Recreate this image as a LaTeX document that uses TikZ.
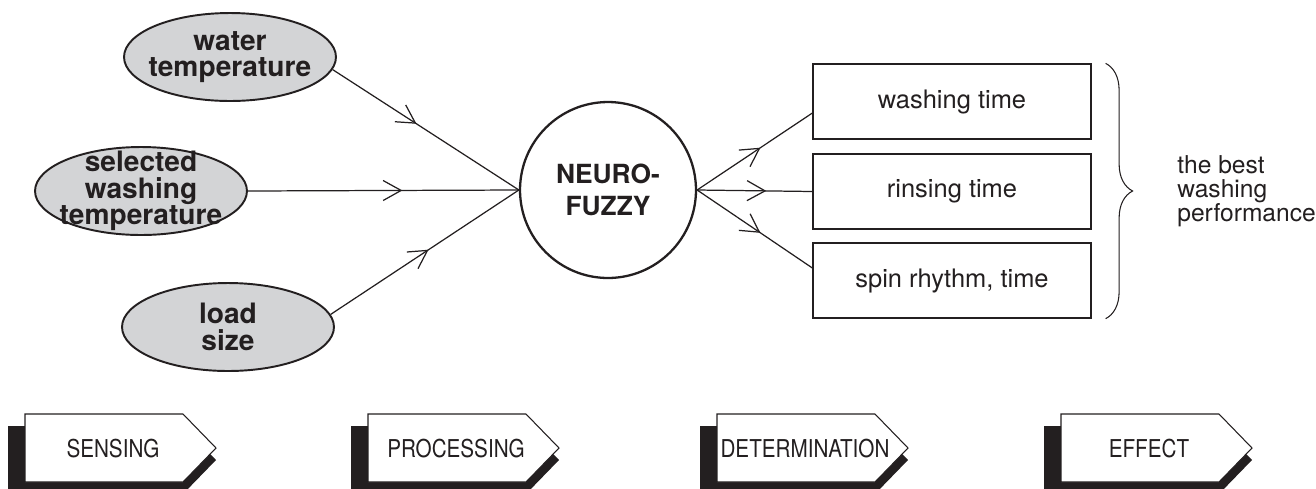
\documentclass[tikz,border=0pt]{standalone}
\usepackage{fontspec}
\setmainfont{TeX Gyre Heros}
\newfontfamily\tagfont[FakeStretch=0.84]{TeX Gyre Heros}
\usetikzlibrary{shapes,arrows.meta,calc,decorations.markings,decorations.pathreplacing}
\definecolor{ellgray}{RGB}{211,212,214}
\definecolor{ink}{RGB}{35,31,32}
\tikzset{sens/.style={ellipse,draw=ink,line width=1.1pt,fill=ellgray,minimum width=4.24cm,minimum height=1.76cm,inner sep=0pt},
stxt/.style={font=\bfseries\fontsize{16}{15}\selectfont,align=center,inner sep=0pt,text=ink},
proc/.style={circle,draw=ink,line width=1.3pt,minimum size=3.52cm,inner sep=0pt,align=center,font=\bfseries\fontsize{15}{18}\selectfont,text=ink},
outp/.style={rectangle,draw=ink,line width=0.75pt,minimum width=5.56cm,minimum height=1.5cm,inner sep=0pt,font=\fontsize{14.5}{16}\selectfont,text=ink},
flow/.style={draw=ink,line width=0.7pt,postaction=decorate,decoration={markings,mark=at position #1 with {\arrow{Straight Barb[length=0.36cm,width=0.4cm,line width=0.7pt]}}}},
flow/.default=0.55,
tagtxt/.style={font=\tagfont\fontsize{14}{16}\selectfont,inner sep=0pt,text=ink}}

\begin{document}
\begin{tikzpicture}[x=0.02cm,y=-0.02cm]
\useasboundingbox (0,0) rectangle (1316,488);
% inputs
\node[sens,label={[stxt]center:{water\\temperature}}] (wt) at (230,57) {};
\node[sens,label={[stxt]center:{selected\\washing\\temperature}}] (ws) at (141,191) {};
\node[sens,label={[stxt]center:{load\\size}}] (ls) at (228,327) {};
\node[proc] (nf) at (608,190) {NEURO-\\FUZZY};
% outputs
\node[outp] (w1) at (952,101.5) {washing time};
\node[outp] (w2) at (952,191.5) {rinsing time};
\node[outp] (w3) at (952,280.5) {spin rhythm, time};
\draw (wt.-7) edge[flow=0.45] (nf.west)
(ws.east) edge[flow=0.57] (nf.west)
(ls.7) edge[flow=0.52] (nf.west)
(nf.east) edge[flow] ([yshift=-0.23cm]w1.west)
(nf.east) edge[flow=0.6] (w2.west)
(nf.east) edge[flow] ([yshift=0.25cm]w3.west);
\coordinate (bt) at ([xshift=0.28cm]w1.north east);
\coordinate (bb) at ([xshift=0.28cm]w3.south east);
\draw[ink,line width=0.6pt,decorate,decoration={brace,amplitude=0.54cm}] (bt) -- (bb);
\node[anchor=west,align=left,inner sep=0pt,text=ink,font=\fontsize{14}{13.5}\selectfont] (pf) at (1177,191) {the best\\washing\\performance};
% stages
\foreach \x/\t [count=\i] in {25/SENSING,368/PROCESSING,717/DETERMINATION,1061/EFFECT}{
\fill[ink] (\x-17,426) -- (\x+158,426) -- (\x+191,460) -- (\x+158,494) -- (\x-17,494) -- cycle;
\filldraw[fill=white,draw=ink,line width=0.6pt] (\x,414) -- (\x+158,414) -- (\x+191,448) -- (\x+158,482) -- (\x,482) -- cycle;
\node[tagtxt] (tag\i) at (\x+88,449) {\t};
}
\end{tikzpicture}
\end{document}
